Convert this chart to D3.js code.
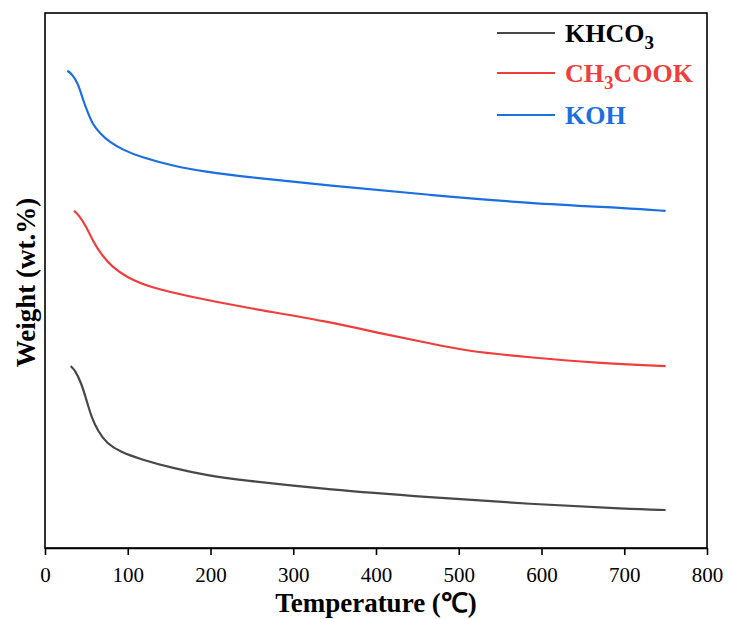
<!DOCTYPE html>
<html>
<head>
<meta charset="utf-8">
<script src="https://cdn.jsdelivr.net/npm/d3@7"></script>
<style>
    body { margin: 0; background: #ffffff; }
    svg text { font-family: "Times New Roman", "Liberation Serif", serif; }
</style>
</head>
<body>
<div id="chart"></div>
<script>
// temperatures (°C) and relative weight (y axis has no ticks)
const khco3Temp = [31, 36, 44, 50, 56, 64.5, 74.5, 90.6, 115, 155, 195, 236, 344, 465, 586, 707, 750];
const khco3Weight = [34.0, 33.3, 30.8, 27.7, 24.5, 21.7, 19.6, 18.0, 16.6, 14.9, 13.6, 12.7, 10.9, 9.5, 8.2, 7.3, 7.1];

const acetateTemp = [35, 40, 50, 58, 68.5, 80.6, 98.7, 127, 175, 236, 344, 405, 465, 505, 586, 667, 750];
const acetateWeight = [63.0, 62.4, 60.1, 57.3, 54.8, 52.6, 50.6, 48.7, 47.0, 45.1, 42.3, 40.1, 38.3, 36.9, 35.6, 34.6, 34.0];

const kohTemp = [27, 32, 40, 46, 52, 58, 66.5, 78.5, 94.6, 115, 155, 195, 236, 344, 465, 586, 707, 750];
const kohWeight = [89.2, 88.7, 86.9, 83.7, 81.3, 79.1, 77.5, 75.8, 74.4, 73.1, 71.4, 70.3, 69.5, 67.7, 66.0, 64.4, 63.5, 63.0];

const seriesNames = ["KHCO3", "CH3COOK", "KOH"];
const seriesColors = ["#484848", "#f03e3e", "#1b6fe0"];
const labelColors = ["#000000", "#f03e3e", "#1b6fe0"];
const xTicks = [0, 100, 200, 300, 400, 500, 600, 700, 800];

const width = 729, height = 619;
const margin = { top: 13, right: 22, bottom: 71, left: 45 };

const svg = d3.select("#chart").append("svg")
    .attr("width", width)
    .attr("height", height);

const x = d3.scaleLinear().domain([0, 800]).range([margin.left, width - margin.right]);
const y = d3.scaleLinear().domain([0, 100]).range([height - margin.bottom, margin.top]);

const series = [
    khco3Temp.map((t, i) => ({ t: t, w: khco3Weight[i] })),
    acetateTemp.map((t, i) => ({ t: t, w: acetateWeight[i] })),
    kohTemp.map((t, i) => ({ t: t, w: kohWeight[i] }))
];

const line = d3.line()
    .x(d => x(d.t))
    .y(d => y(d.w))
    .curve(d3.curveBasis);

// frame
svg.append("rect")
    .attr("x", margin.left)
    .attr("y", margin.top)
    .attr("width", width - margin.left - margin.right)
    .attr("height", height - margin.top - margin.bottom)
    .attr("fill", "none")
    .attr("stroke", "#000")
    .attr("stroke-width", 1.6);

const xAxis = svg.append("g")
    .attr("transform", `translate(0,${height - margin.bottom})`)
    .call(d3.axisBottom(x).tickValues(xTicks).tickSize(7).tickSizeOuter(0).tickPadding(12));
xAxis.attr("font-family", null);
xAxis.select(".domain").attr("stroke-width", 1.6);
xAxis.selectAll(".tick line").attr("stroke-width", 1.6);
xAxis.selectAll(".tick text")
    .attr("font-size", "21px")
    .attr("fill", "#000");

svg.selectAll(".curve")
    .data(series)
    .join("path")
    .attr("class", "curve")
    .attr("d", line)
    .attr("fill", "none")
    .attr("stroke", (d, i) => seriesColors[i])
    .attr("stroke-width", 2.2);

// axis titles
svg.append("text")
    .attr("x", x(400))
    .attr("y", 612)
    .attr("text-anchor", "middle")
    .attr("font-size", "27px")
    .attr("font-weight", "bold")
    .text("Temperature (℃)");

svg.append("text")
    .attr("transform", `translate(35,${y(50) + 2}) rotate(-90)`)
    .attr("text-anchor", "middle")
    .attr("font-size", "27px")
    .attr("font-weight", "bold")
    .text("Weight (wt.%)");

// legend
const legendY = [33, 73, 115];
const legend = svg.selectAll(".legend-item")
    .data(seriesNames)
    .join("g")
    .attr("class", "legend-item")
    .attr("transform", (d, i) => `translate(497,${legendY[i]})`);

legend.append("line")
    .attr("x1", 0)
    .attr("x2", 58)
    .attr("stroke", (d, i) => seriesColors[i])
    .attr("stroke-width", 2.2);

legend.append("text")
    .attr("x", 68)
    .attr("y", 9)
    .attr("font-size", "26px")
    .attr("font-weight", "bold")
    .attr("fill", (d, i) => labelColors[i])
    .each(function (d) {
        // digits become subscripts, shift back up for the next part
        const parts = d.match(/[A-Z]+|\d+/g);
        let shift = 0;
        parts.forEach(p => {
            const isSub = /\d/.test(p);
            const dy = isSub ? 7 : -shift;
            shift = isSub ? 7 : 0;
            d3.select(this).append("tspan")
                .attr("font-size", isSub ? "19px" : "26px")
                .attr("dy", dy)
                .text(p);
        });
    });
</script>
</body>
</html>
